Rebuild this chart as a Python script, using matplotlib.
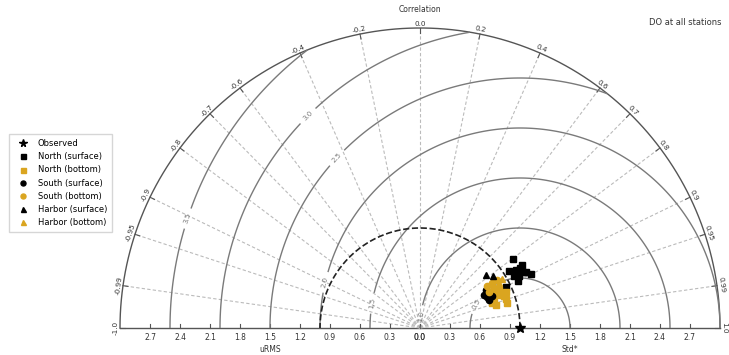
import numpy as np
import matplotlib
matplotlib.use("Agg")
import matplotlib.pyplot as plt

# normalized std and correlation of each model/station pair
north_surf_std = [1.158, 1.057, 1.122, 1.166, 1.172, 1.118, 1.234, 1.087, 0.953, 1.199, 1.074, 1.199]
north_surf_cor = [0.803, 0.842, 0.856, 0.857, 0.879, 0.885, 0.899, 0.902, 0.903, 0.884, 0.875, 0.851]
north_bot_std = [0.932, 0.899, 0.908, 0.905, 0.791, 0.794, 0.762, 0.875, 0.877, 0.828]
north_bot_cor = [0.923, 0.934, 0.948, 0.961, 0.935, 0.957, 0.945, 0.926, 0.901, 0.906]
south_surf_std = [0.762, 0.745, 0.720, 0.738, 0.788]
south_surf_cor = [0.867, 0.927, 0.889, 0.908, 0.914]
south_bot_std = [0.849, 0.907, 0.841, 0.778, 0.791]
south_bot_cor = [0.848, 0.849, 0.880, 0.887, 0.847]
harbor_surf_std = [0.846, 0.896]
harbor_surf_cor = [0.780, 0.815]
harbor_bot_std = [0.909, 0.955]
harbor_bot_cor = [0.869, 0.858]

corr_ticks = [-1.0, -0.99, -0.95, -0.9, -0.8, -0.7, -0.6, -0.4, -0.2, 0.0,
              0.2, 0.4, 0.6, 0.7, 0.8, 0.9, 0.95, 0.99, 1.0]
std_ticks = [0.3, 0.6, 0.9, 1.2, 1.5, 1.8, 2.1, 2.4, 2.7]
rms_levels = [0.5, 1.0, 1.5, 2.0, 2.5, 3.0, 3.5]
rms_label_pos = [(0.54, 0.25), (0.03, 0.12), (-0.49, 0.25), (-0.96, 0.46),
                 (-0.84, 1.71), (-1.13, 2.13), (-2.34, 1.10)]

smax = 3.0
gold = '#DAA520'


def polar_xy(std, cor):
    std = np.asarray(std)
    th = np.arccos(np.asarray(cor))
    return std * np.cos(th), std * np.sin(th)


fig = plt.figure(figsize=(7.29, 3.55), dpi=100)
ax = fig.add_axes([0, 0, 1, 1])
ax.set_xlim(-4.20, 3.09)
ax.set_ylim(-0.27, 3.28)
ax.set_aspect('equal')
ax.axis('off')

# outer frame
t = np.linspace(0, np.pi, 400)
ax.plot(smax * np.cos(t), smax * np.sin(t), color='#555555', lw=1.0)
ax.plot([-smax, smax], [0, 0], color='#555555', lw=1.0)

# correlation grid + labels
for c in corr_ticks:
    th = np.arccos(c)
    ct, st = np.cos(th), np.sin(th)
    if abs(c) < 1:
        ax.plot([0, smax * ct], [0, smax * st], color='#bbbbbb', ls='--', lw=0.8, dashes=(3, 2))
    ax.plot([smax * ct, (smax - 0.05) * ct], [smax * st, (smax - 0.05) * st], color='#555555', lw=0.8)
    lab = '%.2f' % c if c in (0.95, 0.99, -0.95, -0.99) else '%.1f' % c
    ax.text(3.015 * ct, 3.015 * st, lab, fontsize=5.2, color='#333333',
            rotation=np.degrees(th) - 90, ha='center', va='bottom', rotation_mode='anchor')
ax.text(0, 3.18, 'Correlation', fontsize=5.5, color='#333333', ha='center', va='center')

# std ticks along the base line
for s in std_ticks + [0.0]:
    for sgn in (-1, 1):
        ax.plot([sgn * s, sgn * s], [0, 0.04], color='#555555', lw=0.8)
        ax.text(sgn * s, -0.09, '%.1f' % s, fontsize=5.5, color='#333333', ha='center', va='center')
ax.text(-1.5, -0.21, 'uRMS', fontsize=5.5, color='#333333', ha='center', va='center')
ax.text(1.5, -0.21, 'Std*', fontsize=5.5, color='#333333', ha='center', va='center')

# centered RMS contours around the reference
rs, ts = np.meshgrid(np.linspace(0, smax, 300), np.linspace(0, np.pi, 300))
X, Y = rs * np.cos(ts), rs * np.sin(ts)
rms = np.sqrt(1.0 + rs ** 2 - 2 * rs * np.cos(ts))
cs = ax.contour(X, Y, rms, levels=rms_levels, colors='#7a7a7a', linewidths=1.0)
ax.clabel(cs, inline=True, fmt='%.1f', fontsize=5, manual=rms_label_pos)

# reference std circle
ax.plot(np.cos(t), np.sin(t), color='#222222', ls='--', lw=1.2)

# points
ax.plot(1.0, 0.0, '*', color='black', ms=7, label='Observed', clip_on=False, zorder=6)
ms = 4.5
x, y = polar_xy(north_surf_std, north_surf_cor)
ax.plot(x, y, 's', color='black', ms=ms, ls='none', label='North (surface)', zorder=5)
x, y = polar_xy(north_bot_std, north_bot_cor)
ax.plot(x, y, 's', color=gold, ms=ms, ls='none', label='North (bottom)', zorder=5)
x, y = polar_xy(south_surf_std, south_surf_cor)
ax.plot(x, y, 'o', color='black', ms=ms, ls='none', label='South (surface)', zorder=5)
x, y = polar_xy(south_bot_std, south_bot_cor)
ax.plot(x, y, 'o', color=gold, ms=ms, ls='none', label='South (bottom)', zorder=5)
x, y = polar_xy(harbor_surf_std, harbor_surf_cor)
ax.plot(x, y, '^', color='black', ms=ms, ls='none', label='Harbor (surface)', zorder=5)
x, y = polar_xy(harbor_bot_std, harbor_bot_cor)
ax.plot(x, y, '^', color=gold, ms=ms, ls='none', label='Harbor (bottom)', zorder=5)

fig.legend(loc='upper left', bbox_to_anchor=(0.007, 0.634), fontsize=6, numpoints=1,
           frameon=True, fancybox=False, edgecolor='#cccccc', handletextpad=0.8,
           labelspacing=0.5, borderpad=0.6, markerscale=0.8)

fig.text(0.99, 0.937, 'DO at all stations', fontsize=6, ha='right', va='center', color='#333333')

fig.savefig('out.png', dpi=100)
